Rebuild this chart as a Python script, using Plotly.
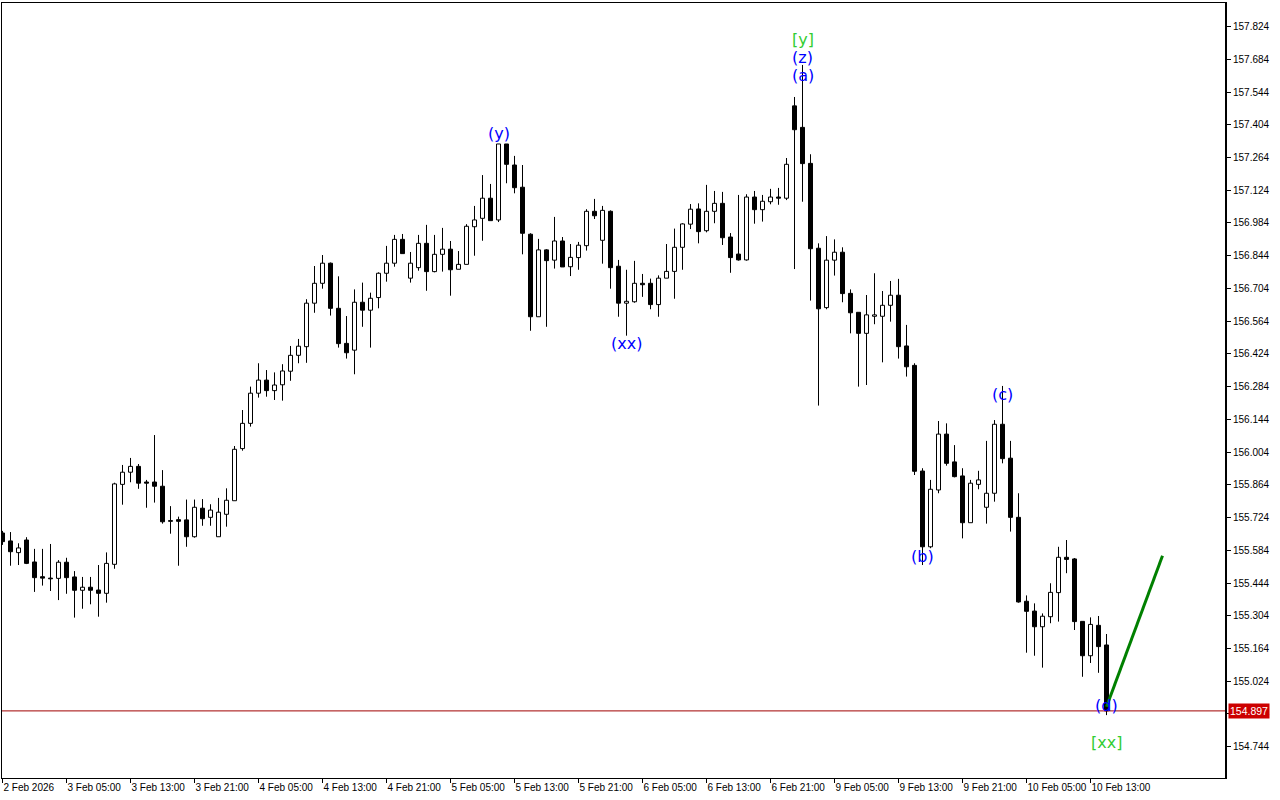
import plotly.graph_objects as go

# ---- data (hourly candles, index 0 = 2 Feb 21:00) ----
opens = [155.658,155.624,155.574,155.628,155.534,155.471,155.465,155.464,155.533,155.470,
         155.413,155.426,155.414,155.400,155.524,155.866,155.918,155.943,155.876,155.876,
         155.858,155.711,155.715,155.714,155.642,155.764,155.725,155.642,155.738,155.796,
         156.019,156.127,156.256,156.312,156.267,156.292,156.350,156.418,156.455,156.641,
         156.726,156.812,156.619,156.469,156.440,156.645,156.611,156.665,156.769,156.812,
         156.914,156.748,156.793,156.897,156.776,156.850,156.872,156.786,156.807,156.968,
         157.004,157.090,156.997,157.322,157.232,157.137,156.936,156.583,156.869,156.825,
         156.907,156.797,156.836,156.887,157.034,156.910,157.034,156.799,156.641,156.647,
         156.726,156.726,156.635,156.748,156.777,156.880,156.979,157.044,156.951,157.034,
         157.068,156.924,156.851,156.826,157.095,157.041,157.075,157.095,157.090,157.485,
         157.393,157.239,156.876,156.622,156.825,156.859,156.683,156.602,156.512,156.585,
         156.585,156.632,156.675,156.458,156.375,155.923,155.599,155.842,156.081,155.962,
         155.902,155.702,155.866,155.768,155.828,156.123,155.978,155.725,155.366,155.324,
         155.257,155.300,155.403,155.554,155.547,155.280,155.133,155.263,155.179]
highs = [155.667,155.662,155.614,155.640,155.590,155.590,155.611,155.542,155.552,155.495,
         155.470,155.470,155.521,155.575,155.873,155.949,155.979,155.953,155.885,156.077,
         155.927,155.773,155.728,155.801,155.801,155.803,155.781,155.808,155.849,156.030,
         156.184,156.284,156.384,156.355,156.345,156.380,156.458,156.488,156.658,156.800,
         156.847,156.815,156.756,156.586,156.700,156.729,156.686,156.773,156.886,156.933,
         156.937,156.860,156.933,156.976,156.933,156.963,156.907,156.864,156.979,157.057,
         157.189,157.151,157.322,157.322,157.271,157.232,156.940,156.916,156.872,157.010,
         156.924,156.894,156.903,157.043,157.087,157.057,157.038,156.826,156.784,156.822,
         156.766,156.746,156.760,156.894,156.960,156.983,157.065,157.068,157.147,157.121,
         157.117,156.941,157.104,157.107,157.121,157.104,157.130,157.134,157.262,157.523,
         157.660,157.278,156.897,156.928,156.914,156.880,156.700,156.602,156.676,156.769,
         156.693,156.736,156.745,156.548,156.384,155.935,155.885,156.137,156.127,156.034,
         155.935,155.885,155.924,156.052,156.141,156.287,156.052,155.828,155.391,155.357,
         155.314,155.443,155.599,155.628,155.551,155.280,155.297,155.303,155.226]
lows = [155.607,155.518,155.521,155.525,155.406,155.433,155.410,155.371,155.398,155.296,
        155.334,155.353,155.300,155.360,155.505,155.779,155.875,155.847,155.766,155.788,
        155.698,155.655,155.518,155.599,155.638,155.689,155.689,155.642,155.685,155.796,
        156.010,156.113,156.237,156.241,156.227,156.224,156.309,156.384,156.386,156.600,
        156.703,156.588,156.451,156.404,156.337,156.540,156.451,156.619,156.733,156.797,
        156.853,156.729,156.780,156.694,156.773,156.776,156.673,156.786,156.807,156.844,
        156.908,156.994,156.988,157.154,157.111,156.850,156.523,156.583,156.540,156.789,
        156.796,156.757,156.784,156.866,157.001,156.810,156.703,156.583,156.502,156.643,
        156.668,156.615,156.583,156.748,156.660,156.784,156.958,156.897,156.944,156.983,
        156.890,156.771,156.823,156.823,156.981,156.990,157.064,157.062,157.082,156.787,
        157.075,156.652,156.203,156.615,156.759,156.645,156.512,156.284,156.291,156.551,
        156.388,156.562,156.404,156.327,155.906,155.521,155.593,155.828,155.946,155.896,
        155.635,155.702,155.845,155.698,155.792,155.956,155.664,155.360,155.146,155.133,
        155.082,155.272,155.279,155.486,155.243,155.043,155.102,155.060,154.879]
closes = [155.621,155.578,155.594,155.528,155.467,155.465,155.462,155.533,155.467,155.413,
          155.426,155.413,155.400,155.528,155.868,155.918,155.943,155.871,155.871,155.858,
          155.706,155.708,155.708,155.642,155.768,155.719,155.756,155.747,155.798,156.016,
          156.127,156.256,156.312,156.267,156.291,156.351,156.418,156.457,156.641,156.726,
          156.812,156.619,156.468,156.429,156.645,156.611,156.662,156.769,156.812,156.914,
          156.853,156.812,156.897,156.776,156.850,156.872,156.784,156.807,156.970,156.997,
          157.090,156.994,157.322,157.235,157.135,156.940,156.583,156.869,156.823,156.907,
          156.796,156.837,156.889,157.034,157.015,157.038,156.793,156.641,156.649,156.726,
          156.720,156.635,156.748,156.777,156.880,156.980,157.043,156.947,157.034,157.068,
          156.921,156.836,156.826,157.095,157.041,157.077,157.095,157.090,157.235,157.383,
          157.238,156.874,156.617,156.825,156.859,156.682,156.600,156.512,156.591,156.591,
          156.632,156.675,156.455,156.369,155.922,155.599,155.845,156.081,155.956,155.899,
          155.702,155.871,155.885,155.828,156.123,155.976,155.725,155.363,155.323,155.257,
          155.302,155.404,155.554,155.545,155.279,155.133,155.267,155.172,154.897]

time_tick_idx = [0, 8, 16, 24, 32, 40, 48, 56, 64, 72, 80, 88, 96, 104, 112, 120, 128, 136]
time_tick_text = ["2 Feb 2026", "3 Feb 05:00", "3 Feb 13:00", "3 Feb 21:00", "4 Feb 05:00",
                  "4 Feb 13:00", "4 Feb 21:00", "5 Feb 05:00", "5 Feb 13:00", "5 Feb 21:00",
                  "6 Feb 05:00", "6 Feb 13:00", "6 Feb 21:00", "9 Feb 05:00", "9 Feb 13:00",
                  "9 Feb 21:00", "10 Feb 05:00", "10 Feb 13:00"]
price_ticks = [157.824, 157.684, 157.544, 157.404, 157.264, 157.124, 156.984, 156.844,
               156.704, 156.564, 156.424, 156.284, 156.144, 156.004, 155.864, 155.724,
               155.584, 155.444, 155.304, 155.164, 155.024, 154.884, 154.744]

wave_text = ["[y]", "(z)", "(a)", "(y)", "(xx)", "(b)", "(c)", "(d)", "[xx]"]
wave_idx = [100, 100, 100, 62, 78, 115, 125, 138, 138]
wave_price = [157.767, 157.690, 157.613, 157.365, 156.467, 155.556, 156.249, 154.922, 154.764]
wave_color = ["#32CD32", "#0000FF", "#0000FF", "#0000FF", "#0000FF", "#0000FF", "#0000FF", "#0000FF", "#32CD32"]

proj_idx = [138, 145]
proj_price = [154.915, 155.561]

last_price = closes[-1]

# ---- figure ----
idx = list(range(len(opens)))
wx, wy = [], []
for i, (o, h, l, c) in enumerate(zip(opens, highs, lows, closes)):
    top, bot = max(o, c), min(o, c)
    if h > top:
        wx += [i, i, None]; wy += [h, top, None]
    if l < bot:
        wx += [i, i, None]; wy += [bot, l, None]

bases = [min(o, c) for o, c in zip(opens, closes)]
heights = [max(abs(c - o), 0.002) for o, c in zip(opens, closes)]
fills = ["white" if c >= o else "black" for o, c in zip(opens, closes)]

fig = go.Figure()
fig.add_trace(go.Scatter(x=wx, y=wy, mode="lines", line=dict(color="black", width=1),
                         hoverinfo="skip"))
fig.add_trace(go.Bar(x=idx, y=heights, base=bases, width=0.5,
                     marker=dict(color=fills, line=dict(color="black", width=1)),
                     hoverinfo="skip"))
fig.add_trace(go.Scatter(x=proj_idx, y=proj_price, mode="lines",
                         line=dict(color="#008000", width=3), hoverinfo="skip"))

for t, xi, p, col in zip(wave_text, wave_idx, wave_price, wave_color):
    fig.add_annotation(x=xi, y=p, xref="x", yref="y", text=t, showarrow=False,
                       xanchor="center", yanchor="middle",
                       font=dict(family="DejaVu Sans", size=16, color=col))

fig.add_shape(type="line", xref="paper", yref="y", x0=0, x1=1, y0=last_price, y1=last_price,
              line=dict(color="#A00000", width=1))
fig.add_shape(type="line", xref="paper", yref="paper", x0=1, x1=1, y0=0, y1=1,
              line=dict(color="black", width=2))
fig.add_annotation(x=1, xref="paper", y=last_price, yref="y", text=f"{last_price:.3f}",
                   showarrow=False, xanchor="left", yanchor="middle", xshift=2,
                   bgcolor="#CC0000", borderpad=1,
                   font=dict(family="Liberation Sans", size=10.5, color="white"))

axis_font = dict(family="Liberation Sans", size=10, color="black")
fig.update_layout(
    width=1280, height=800,
    margin=dict(l=2, r=54, t=3, b=22),
    plot_bgcolor="white", paper_bgcolor="white",
    showlegend=False, barmode="overlay",
    xaxis=dict(range=[-0.0625, 152.9375], tickmode="array", tickvals=time_tick_idx,
               ticktext=time_tick_text, ticks="outside", ticklen=4, tickcolor="black",
               ticklabelposition="outside right", tickangle=0, automargin=False,
               tickfont=axis_font,
               showgrid=False, zeroline=False, showline=True, mirror=True,
               linecolor="black", linewidth=1),
    yaxis=dict(side="right", range=[154.610, 157.925], tickmode="array",
               tickvals=price_ticks, ticktext=[f"{v:.3f}" for v in price_ticks],
               ticks="outside", ticklen=4, tickcolor="black", tickfont=axis_font,
               automargin=False,
               showgrid=False, zeroline=False, showline=True, mirror=True,
               linecolor="black", linewidth=1),
)

fig.write_html("out.html", config={"displayModeBar": False},
               post_script="document.body.style.margin='0';document.body.style.padding='0';")
